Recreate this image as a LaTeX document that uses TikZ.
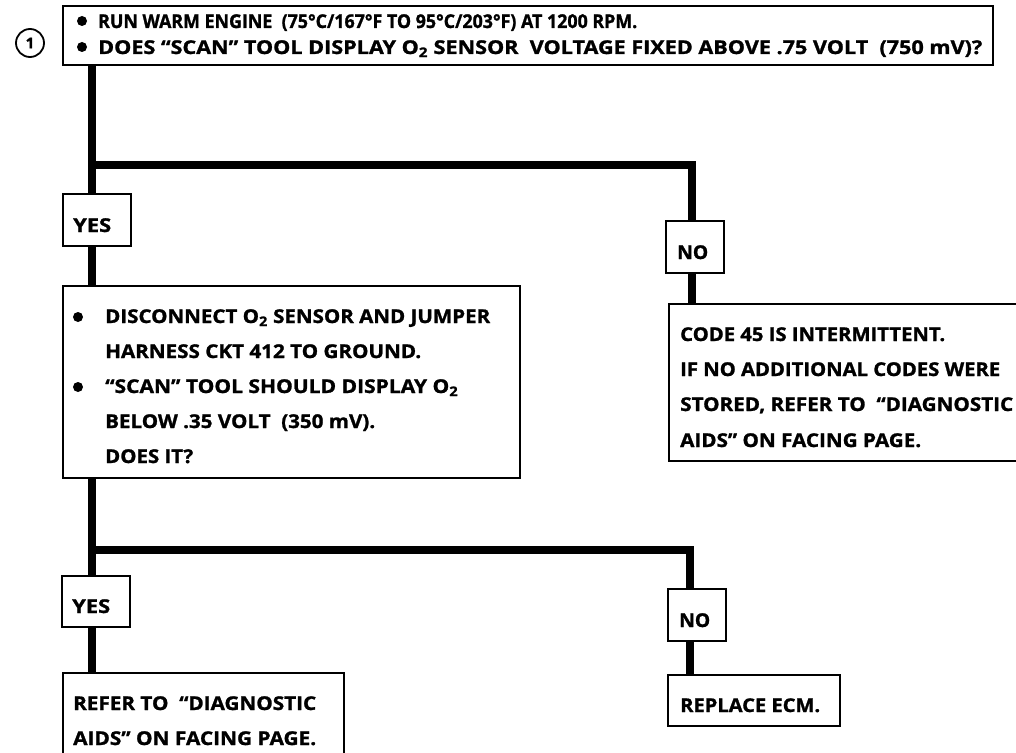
\documentclass[tikz,border=0pt]{standalone}
\usepackage{graphicx}
\usepackage{fontspec}
\setmainfont{Open Sans}[BoldFeatures={FakeBold=1.2}]
\usetikzlibrary{backgrounds}
\newcommand\fitto[2]{\resizebox{#1bp}{\height}{#2}}
\begin{document}
\begin{tikzpicture}[x=1bp,y=-1bp,
  box/.style={draw, line width=1.8bp, fill=white, inner sep=0pt, anchor=north west},
  txt/.style={font=\fontsize{19bp}{35bp}\selectfont\bfseries, anchor=base west, inner sep=0pt},
  conn/.style={line width=7.5bp, line join=miter},
  dotb/.style={circle, fill, inner sep=0pt, minimum size=10bp}]
\useasboundingbox (0,0) rectangle (1016,753);
\clip (0,0) rectangle (1016,753);

% step number
\node[draw, circle, line width=1.8bp, minimum size=28bp, inner sep=0pt,
      font=\fontsize{15bp}{18bp}\selectfont\bfseries] (num) at (30,43) {1};

% boxes
\node[box, minimum width=930bp, minimum height=59bp] (q1) at (62,5) {};
\node[box, minimum width=68bp, minimum height=52bp] (yes1) at (62,193) {};
\node[box, minimum width=58bp, minimum height=52bp] (no1) at (665,220) {};
\node[box, minimum width=457bp, minimum height=192bp] (q2) at (62,285) {};
\node[box, minimum width=380bp, minimum height=157bp] (r1) at (668,303) {};
\node[box, minimum width=68bp, minimum height=51bp] (yes2) at (61,575) {};
\node[box, minimum width=58bp, minimum height=52bp] (no2) at (667,588) {};
\node[box, minimum width=281bp, minimum height=100bp] (r2) at (62,672) {};
\node[box, minimum width=172bp, minimum height=51bp] (r3) at (667,674) {};

% texts of box 1
\node[dotb] (q1d1) at (82,21) {};
\node[dotb] (q1d2) at (82,47) {};
\node[txt] (q1t1) at (98,28) {\fitto{539}{RUN WARM ENGINE\ \ (75°C/167°F TO 95°C/203°F) AT 1200 RPM.}};
\node[txt] (q1t2) at (98,54) {\fitto{884}{DOES “SCAN” TOOL DISPLAY O\textsubscript{2} SENSOR\ \ VOLTAGE FIXED ABOVE .75 VOLT\ \ (750 mV)?}};

\node[txt] (yes1t) at (73,232) {\fitto{38}{YES}};
\node[txt] (no1t) at (677,259) {\fitto{31}{NO}};

% texts of box 2
\node[dotb] (q2d1) at (78,317) {};
\node[dotb] (q2d2) at (78,387) {};
\node[txt] (q2t1) at (105,323) {\fitto{385}{DISCONNECT O\textsubscript{2} SENSOR AND JUMPER}};
\node[txt] (q2t2) at (105,358) {\fitto{316}{HARNESS CKT 412 TO GROUND.}};
\node[txt] (q2t3) at (105,393) {\fitto{353}{“SCAN” TOOL SHOULD DISPLAY O\textsubscript{2}}};
\node[txt] (q2t4) at (105,428) {\fitto{270}{BELOW .35 VOLT\ \ (350 mV).}};
\node[txt] (q2t5) at (105,463) {\fitto{88}{DOES IT?}};

% texts of box 3
\node[txt] (r1t1) at (680,341) {\fitto{265}{CODE 45 IS INTERMITTENT.}};
\node[txt] (r1t2) at (680,376) {\fitto{320}{IF NO ADDITIONAL CODES WERE}};
\node[txt] (r1t3) at (680,411) {\fitto{333}{STORED, REFER TO\ \ “DIAGNOSTIC}};
\node[txt] (r1t4) at (680,447) {\fitto{241}{AIDS” ON FACING PAGE.}};

\node[txt] (yes2t) at (72,613) {\fitto{38}{YES}};
\node[txt] (no2t) at (679,627) {\fitto{31}{NO}};

\node[txt] (r2t1) at (73,710) {\fitto{243}{REFER TO\ \ “DIAGNOSTIC}};
\node[txt] (r2t2) at (73,745) {\fitto{243}{AIDS” ON FACING PAGE.}};
\node[txt] (r3t1) at (680,712) {\fitto{140}{REPLACE ECM.}};

% junctions
\coordinate (j1) at (92,165);
\coordinate (j1r) at (692,165);
\coordinate (j2) at (92,550);
\coordinate (j2r) at (690,550);

\begin{scope}[on background layer]
\fill[white] (0,0) rectangle (1016,753);
\draw[conn] (q1.south -| j1) -- (q2.north -| j1);
\draw[conn] (j1) -- (j1r) -- (j1r |- r1.north);
\draw[conn] (q2.south -| j2) -- (r2.north -| j2);
\draw[conn] (j2) -- (j2r) -- (j2r |- r3.north);
\end{scope}
\end{tikzpicture}
\end{document}
